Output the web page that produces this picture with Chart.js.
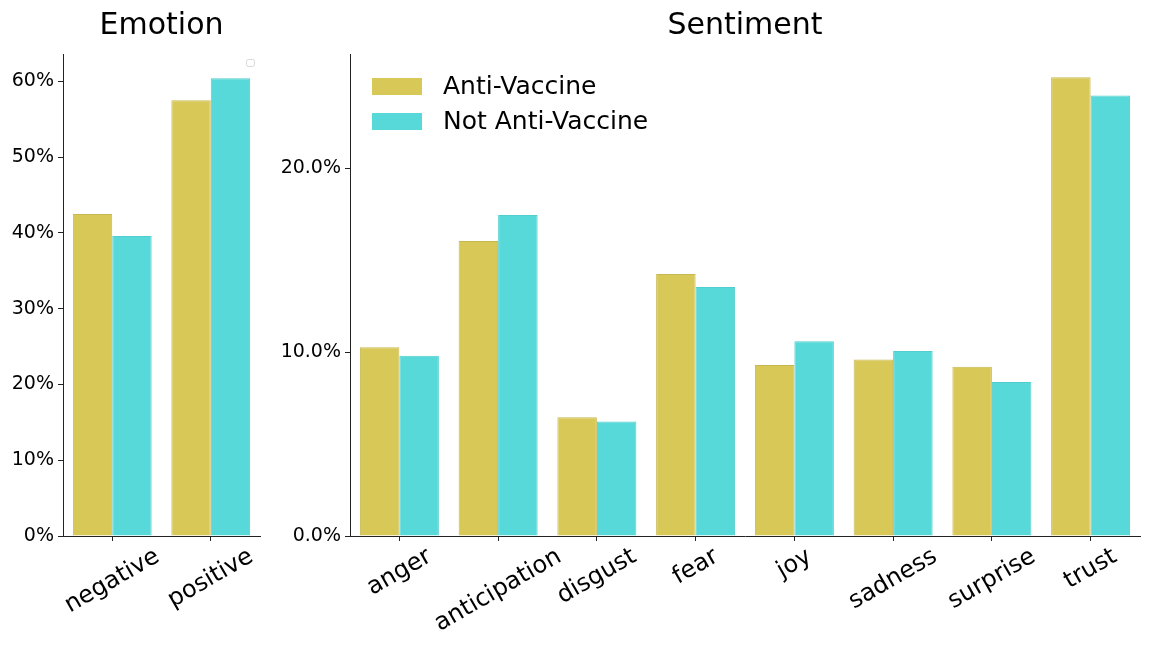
<!DOCTYPE html>
<html>
<head>
<meta charset="utf-8">
<script src="https://cdn.jsdelivr.net/npm/chart.js@4/dist/chart.umd.min.js"></script>
<style>
  body { margin: 0; background: #fff; }
  #wrap { position: relative; width: 1152px; height: 648px; }
  canvas { position: absolute; top: 0; }
</style>
</head>
<body>
<div id="wrap">
  <canvas id="emotionChart" width="272" height="648" style="left:0"></canvas>
  <canvas id="sentimentChart" width="882" height="648" style="left:270px"></canvas>
</div>
<script>
// Data (percent of tweets)
const seriesNames = ['Anti-Vaccine', 'Not Anti-Vaccine'];
const seriesColors = ['#d8c858', '#56d9d8'];
const seriesEdges = ['#c9b850', '#50cdcc'];

const emotionLabels = ['negative', 'positive'];
const emotionAnti = [42.5, 57.5];
const emotionNot = [39.6, 60.4];

const sentimentLabels = ['anger', 'anticipation', 'disgust', 'fear', 'joy', 'sadness', 'surprise', 'trust'];
const sentimentAnti = [10.26, 16.03, 6.45, 14.24, 9.29, 9.60, 9.20, 24.93];
const sentimentNot = [9.80, 17.45, 6.23, 13.53, 10.58, 10.05, 8.37, 23.95];

const FONT = 'DejaVu Sans';
const AXIS_COLOR = '#222';

// Draw x labels rotated 30 degrees and centred under the tick (like matplotlib)
const rotatedLabels = {
    id: 'rotatedLabels',
    afterDraw(chart) {
        const scale = chart.scales.x;
        const ctx = chart.ctx;
        const size = 24;
        const ang = 30 * Math.PI / 180;
        ctx.save();
        ctx.font = size + 'px "' + FONT + '"';
        ctx.fillStyle = '#000';
        ctx.textAlign = 'center';
        ctx.textBaseline = 'middle';
        chart.data.labels.forEach((label, i) => {
            const x = scale.getPixelForTick(i);
            const w = ctx.measureText(label).width;
            const h = size * 1.15;
            const top = scale.top + 7;
            const cy = top + (w * Math.sin(ang) + h * Math.cos(ang)) / 2;
            ctx.save();
            ctx.translate(x, cy);
            ctx.rotate(-ang);
            ctx.fillText(label, 0, 0);
            ctx.restore();
        });
        ctx.restore();
    }
};

// Legend drawn inside the plot area, top left
const insideLegend = {
    id: 'insideLegend',
    afterDraw(chart, args, opts) {
        const ctx = chart.ctx;
        const area = chart.chartArea;
        ctx.save();
        if (opts.empty) {
            // matplotlib left an empty legend frame here
            ctx.strokeStyle = '#d8d8d8';
            ctx.lineWidth = 1;
            ctx.beginPath();
            ctx.roundRect(area.right - 13.5, area.top + 5.5, 8, 7, 2);
            ctx.stroke();
        } else {
            ctx.font = '25px "' + FONT + '"';
            ctx.textBaseline = 'middle';
            seriesNames.forEach((name, i) => {
                const y = area.top + 24 + i * 35;
                ctx.fillStyle = seriesColors[i];
                ctx.fillRect(area.left + 22, y, 50, 17);
                ctx.fillStyle = '#000';
                ctx.fillText(name, area.left + 93, y + 9);
            });
        }
        ctx.restore();
    }
};

function makeChart(id, title, labels, anti, not, yMax, yWidth, tickFmt, empty) {
    const ctx = document.getElementById(id).getContext('2d');
    return new Chart(ctx, {
        type: 'bar',
        data: {
            labels: labels,
            datasets: [
                {
                    label: seriesNames[0],
                    data: anti,
                    backgroundColor: seriesColors[0],
                    borderColor: seriesEdges[0],
                    borderWidth: 1
                },
                {
                    label: seriesNames[1],
                    data: not,
                    backgroundColor: seriesColors[1],
                    borderColor: seriesEdges[1],
                    borderWidth: 1
                }
            ]
        },
        plugins: [rotatedLabels, insideLegend],
        options: {
            responsive: false,
            animation: false,
            devicePixelRatio: 1,
            categoryPercentage: 0.8,
            barPercentage: 1.0,
            layout: { padding: { left: 0, right: 12, top: 0, bottom: 0 } },
            scales: {
                x: {
                    grid: { display: true, offset: false, drawOnChartArea: false, drawTicks: true, tickLength: 5, color: AXIS_COLOR },
                    border: { display: true, color: AXIS_COLOR, width: 1 },
                    ticks: { display: false },
                    afterFit: function (scale) { scale.height = 112; }
                },
                y: {
                    min: 0,
                    max: yMax,
                    grid: { display: true, drawOnChartArea: false, drawTicks: true, tickLength: 5, color: AXIS_COLOR },
                    border: { display: true, color: AXIS_COLOR, width: 1 },
                    ticks: {
                        stepSize: 10,
                        includeBounds: false,
                        padding: 4,
                        color: '#000',
                        font: { family: FONT, size: 19 },
                        callback: tickFmt
                    },
                    afterFit: function (scale) { scale.width = yWidth; }
                }
            },
            plugins: {
                legend: { display: false },
                tooltip: { enabled: false },
                title: {
                    display: true,
                    text: title,
                    fullSize: false,
                    color: '#000',
                    font: { family: FONT, size: 30, weight: 'normal', lineHeight: 1.2 },
                    padding: { top: 8, bottom: 10 }
                },
                insideLegend: { empty: empty }
            }
        }
    });
}

makeChart('emotionChart', 'Emotion', emotionLabels, emotionAnti, emotionNot, 63.6, 63,
    v => v + '%', true);
makeChart('sentimentChart', 'Sentiment', sentimentLabels, sentimentAnti, sentimentNot, 26.2, 80,
    v => v.toFixed(1) + '%', false);
</script>
</body>
</html>
